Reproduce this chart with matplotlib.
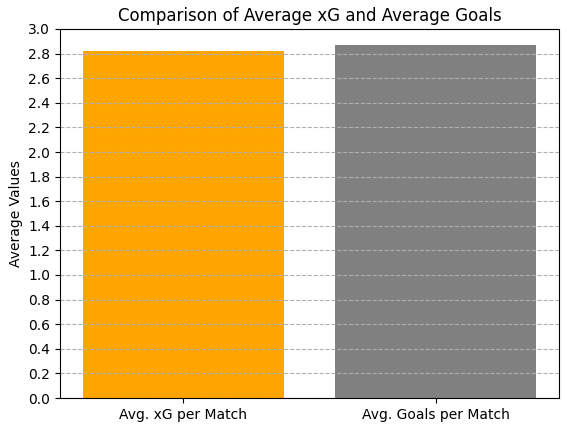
import matplotlib
matplotlib.use('Agg')
import matplotlib.pyplot as plt
import numpy as np

categories = ['Avg. xG per Match', 'Avg. Goals per Match']
values = [2.82, 2.87]
colors = ['orange', 'gray']

fig = plt.figure(figsize=(5.67, 4.30), dpi=100)
ax = fig.add_axes([60 / 567, 1 - 398 / 430, (559 - 60) / 567, (398 - 29) / 430])

ax.bar(categories, values, color=colors)
ax.set_ylim(0, 3.0)
ax.set_yticks(np.arange(0, 3.01, 0.2))
ax.set_ylabel('Average Values')
ax.set_title('Comparison of Average xG and Average Goals')
ax.grid(axis='y', linestyle='--')

fig.savefig('out.png', dpi=100)
